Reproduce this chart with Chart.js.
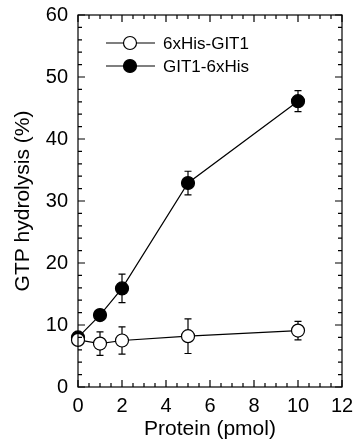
<!DOCTYPE html>
<html>
<head>
<meta charset="utf-8">
<script src="https://cdn.jsdelivr.net/npm/chart.js@4.4.1/dist/chart.umd.min.js"></script>
<style>
  body { margin: 0; background: #fff; }
  canvas { display: block; }
</style>
</head>
<body>
<canvas id="myChart" width="354" height="445"></canvas>
<script>
// données
const protein = [0, 1, 2, 5, 10];
const hisGit = [7.6, 7.0, 7.5, 8.2, 9.1];
const hisGitErr = [0, 1.9, 2.2, 2.8, 1.5];
const gitHis = [8.0, 11.6, 15.9, 32.9, 46.1];
const gitHisErr = [0, 0, 2.3, 1.9, 1.7];
const xTicks = [0, 2, 4, 6, 8, 10, 12];
const yTicks = [0, 10, 20, 30, 40, 50, 60];

const ctx = document.getElementById('myChart');
const font = "'Liberation Sans', Arial, sans-serif";

// barres d'erreur + cadre + petites graduations vers l'intérieur
const extras = {
    id: 'extras',
    beforeDatasetsDraw(chart) {
        const c = chart.ctx;
        const xs = chart.scales.x, ys = chart.scales.y;
        c.save();
        c.strokeStyle = '#000';
        c.lineWidth = 1.2;
        chart.data.datasets.forEach(ds => {
            ds.data.forEach((p, i) => {
                const e = ds.errors[i];
                if (!e) return;
                const px = xs.getPixelForValue(p.x);
                const top = ys.getPixelForValue(p.y + e);
                const bot = ys.getPixelForValue(p.y - e);
                c.beginPath();
                c.moveTo(px, top); c.lineTo(px, bot);
                c.moveTo(px - 3.5, top); c.lineTo(px + 3.5, top);
                c.moveTo(px - 3.5, bot); c.lineTo(px + 3.5, bot);
                c.stroke();
            });
        });
        c.restore();
    },
    afterDraw(chart) {
        const c = chart.ctx;
        const a = chart.chartArea;
        const xs = chart.scales.x, ys = chart.scales.y;
        c.save();
        c.strokeStyle = '#000';
        c.lineWidth = 1.2;
        c.strokeRect(a.left, a.top, a.right - a.left, a.bottom - a.top);
        c.beginPath();
        for (let v = 0; v <= 12; v += 0.5) {
            const px = xs.getPixelForValue(v);
            const len = (v % 2 === 0) ? 7 : 4;
            c.moveTo(px, a.bottom); c.lineTo(px, a.bottom - len);
            c.moveTo(px, a.top); c.lineTo(px, a.top + len);
        }
        for (let v = 0; v <= 60; v += 2) {
            const py = ys.getPixelForValue(v);
            const len = (v % 10 === 0) ? 7 : 4;
            c.moveTo(a.left, py); c.lineTo(a.left + len, py);
            c.moveTo(a.right, py); c.lineTo(a.right - len, py);
        }
        c.stroke();

        // légende
        c.font = '17px ' + font;
        c.textBaseline = 'middle';
        c.fillStyle = '#000';
        chart.data.datasets.forEach((ds, i) => {
            const y = 43 + i * 23;
            c.beginPath();
            c.moveTo(106, y); c.lineTo(155, y);
            c.stroke();
            c.beginPath();
            c.arc(130, y, 6.5, 0, Math.PI * 2);
            c.fillStyle = ds.pointBackgroundColor;
            c.fill();
            c.stroke();
            c.fillStyle = '#000';
            c.fillText(ds.label, 163, y + 1);
        });
        c.restore();
    }
};

new Chart(ctx, {
    type: 'scatter',
    data: {
        datasets: [{
            label: '6xHis-GIT1',
            data: protein.map((x, i) => ({ x: x, y: hisGit[i] })),
            errors: hisGitErr,
            showLine: true,
            borderColor: '#000',
            borderWidth: 1.2,
            pointRadius: 6.5,
            pointBorderWidth: 1.2,
            pointBackgroundColor: '#fff',
            pointBorderColor: '#000',
        }, {
            label: 'GIT1-6xHis',
            data: protein.map((x, i) => ({ x: x, y: gitHis[i] })),
            errors: gitHisErr,
            showLine: true,
            borderColor: '#000',
            borderWidth: 1.2,
            pointRadius: 6.5,
            pointBorderWidth: 1.2,
            pointBackgroundColor: '#000',
            pointBorderColor: '#000',
        }]
    },
    options: {
        responsive: false,
        animation: false,
        clip: false,
        layout: { padding: { left: 0, right: 12, top: 15, bottom: 0 } },
        plugins: {
            legend: { display: false },
            tooltip: { enabled: false },
        },
        scales: {
            x: {
                type: 'linear',
                min: 0,
                max: 12,
                afterBuildTicks: s => { s.ticks = xTicks.map(v => ({ value: v })); },
                afterFit: s => { s.height = 58; },
                grid: { display: false },
                border: { display: false },
                ticks: { color: '#000', font: { size: 20, family: font }, padding: -1, maxRotation: 0 },
                title: { display: true, text: 'Protein (pmol)', color: '#000', font: { size: 21, family: font }, padding: { top: 3, bottom: 3 } },
            },
            y: {
                min: 0,
                max: 60,
                afterBuildTicks: s => { s.ticks = yTicks.map(v => ({ value: v })); },
                afterFit: s => { s.width = 78; },
                grid: { display: false },
                border: { display: false },
                ticks: { color: '#000', font: { size: 20, family: font }, padding: 2 },
                title: { display: true, text: 'GTP hydrolysis (%)', color: '#000', font: { size: 21, family: font }, padding: { top: 11, bottom: 11 } },
            },
        },
    },
    plugins: [extras],
});
</script>
</body>
</html>
